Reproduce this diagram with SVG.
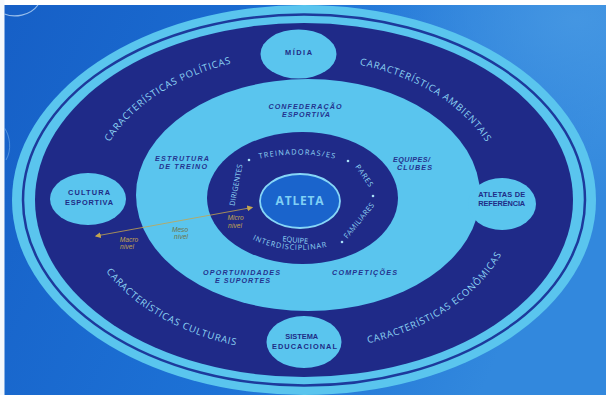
<svg xmlns="http://www.w3.org/2000/svg" width="606" height="398" viewBox="0 0 606 398">
<defs>
<linearGradient id="bg" x1="0" y1="0" x2="1" y2="0.3">
<stop offset="0" stop-color="#165fc6"/>
<stop offset="0.6" stop-color="#1d72d6"/>
<stop offset="1" stop-color="#3288dd"/>
</linearGradient>
<radialGradient id="hl" cx="0.95" cy="0.05" r="0.45">
<stop offset="0" stop-color="#4a9be4" stop-opacity="0.8"/>
<stop offset="1" stop-color="#4a9be4" stop-opacity="0"/>
</radialGradient>
<marker id="ah" viewBox="0 0 10 10" refX="8" refY="5" markerWidth="6" markerHeight="6" markerUnits="userSpaceOnUse" orient="auto-start-reverse">
<path d="M0,0 L10,5 L0,10 Z" fill="#c4a54e"/>
</marker>
<path id="pPol" d="M93.5,188 A209,143 0 0 1 280.2,55.8"/>
<path id="pAmb" d="M316,59.3 A201,139 0 0 1 501.9,183.5"/>
<path id="pCul" d="M81.2,219.5 A223,154.5 0 0 0 294.2,352.4"/>
<path id="pEco" d="M322,350 A214,153 0 0 0 516,210"/>
<path id="pTre" d="M250,161.1 A175,175 0 0 1 345,161.1"/>
<path id="pInt" d="M224.7,212.2 A78,51 0 0 0 375.3,212.2"/>
</defs>
<style>
.light{fill:#5ac5ee}
.navy{fill:#1f2a88}
.band{font-family:"Open Sans","Liberation Sans",sans-serif;font-size:9.6px;fill:#8cd3f3;letter-spacing:0.8px}
.micro{font-family:"Open Sans","Liberation Sans",sans-serif;font-size:7.4px;fill:#8fd4f3}
.meso{font-family:"Liberation Sans",Arial,sans-serif;font-size:7.2px;font-weight:bold;font-style:italic;fill:#24338e;text-anchor:middle}
.sat{font-family:"Liberation Sans",Arial,sans-serif;font-size:7.4px;font-weight:bold;fill:#1f2c86;text-anchor:middle}
.gold{font-family:"Liberation Sans",Arial,sans-serif;font-size:6.6px;font-style:italic;text-anchor:middle}
.dot{fill:#a8e0f7}
</style>
<rect x="0" y="0" width="606" height="398" fill="url(#bg)"/>
<rect x="0" y="0" width="606" height="398" fill="url(#hl)"/>
<rect x="0" y="0" width="606" height="5" fill="#ffffff"/>
<rect x="0" y="0" width="4.5" height="398" fill="#f4f8fc"/>
<rect x="0" y="395" width="606" height="3" fill="#ffffff"/>
<path d="M4.5,14 C14,18 30,16 38,5" fill="none" stroke="#cfe6fb" stroke-width="1.2" opacity="0.7"/>
<path d="M4.5,128 C10,136 12,150 6,160" fill="none" stroke="#8cc0ef" stroke-width="1" opacity="0.5"/>

<g id="rings">
<ellipse cx="304" cy="200" rx="292" ry="195" class="light"/>
<ellipse cx="304" cy="200" rx="281" ry="185.5" fill="none" stroke="#1d3a9c" stroke-width="2.5"/>
<ellipse cx="304" cy="200" rx="269" ry="177" class="navy"/>
</g>

<g id="macro-labels">
<text class="band"><textPath href="#pPol" startOffset="50%" text-anchor="middle">CARACTERÍSTICAS POLÍTICAS</textPath></text>
<text class="band"><textPath href="#pAmb" startOffset="50%" text-anchor="middle">CARACTERÍSTICA AMBIENTAIS</textPath></text>
<text class="band"><textPath href="#pCul" startOffset="50%" text-anchor="middle">CARACTERÍSTICAS CULTURAIS</textPath></text>
<text class="band"><textPath href="#pEco" startOffset="50%" text-anchor="middle">CARACTERÍSTICAS ECONÔMICAS</textPath></text>
</g>

<g id="meso">
<ellipse cx="308" cy="195" rx="172" ry="116" class="light"/>
<text class="meso" x="305" y="108.5" textLength="73">CONFEDERAÇÃO</text>
<text class="meso" x="306" y="117" textLength="48">ESPORTIVA</text>
<text class="meso" x="182" y="160.5" textLength="54">ESTRUTURA</text>
<text class="meso" x="183" y="169" textLength="48">DE TREINO</text>
<text class="meso" x="411.5" y="161.5" textLength="37">EQUIPES/</text>
<text class="meso" x="414.5" y="170" textLength="35">CLUBES</text>
<text class="meso" x="241.5" y="274.5" textLength="77">OPORTUNIDADES</text>
<text class="meso" x="242.5" y="282.5" textLength="55">E SUPORTES</text>
<text class="meso" x="364.5" y="274.5" textLength="65">COMPETIÇÕES</text>
</g>

<g id="micro">
<ellipse cx="302.5" cy="198" rx="95.5" ry="66" class="navy"/>
<text class="micro" font-size="7.6" letter-spacing="1.2"><textPath href="#pTre" startOffset="50%" text-anchor="middle">TREINADORAS/ES</textPath></text>
<text class="micro" text-anchor="middle" letter-spacing="0.1" transform="translate(238.5,185.5) rotate(-79)">DIRIGENTES</text>
<text class="micro" text-anchor="middle" letter-spacing="0.8" transform="translate(362.4,177.4) rotate(55.7)">PARES</text>
<text class="micro" text-anchor="middle" letter-spacing="0.3" transform="translate(361,222.1) rotate(-51)">FAMILIARES</text>
<text class="micro" text-anchor="middle" transform="translate(295,242.5) rotate(6)">EQUIPE</text>
<text class="micro" font-size="7.6" letter-spacing="0.8"><textPath href="#pInt" startOffset="44%" text-anchor="middle">INTERDISCIPLINAR</textPath></text>
<circle class="dot" cx="249" cy="160" r="1.3"/>
<circle class="dot" cx="348" cy="161" r="1.3"/>
<circle class="dot" cx="373" cy="196" r="1.3"/>
<circle class="dot" cx="342" cy="242" r="1.3"/>
</g>

<g id="atleta">
<ellipse cx="300" cy="201" rx="40" ry="27" fill="#1a64cc" stroke="#86d6f7" stroke-width="1.8"/>
<text x="300" y="205" text-anchor="middle" font-family="Open Sans, Liberation Sans, sans-serif" font-weight="bold" font-size="12" fill="#7fd0f5" letter-spacing="0.8">ATLETA</text>
</g>

<g id="midia">
<ellipse cx="298.5" cy="54" rx="38" ry="24.5" class="light"/>
<text class="sat" x="298.5" y="54.5" textLength="27">MÍDIA</text>
</g>
<g id="cultura-esportiva">
<ellipse cx="88" cy="199" rx="38" ry="26" class="light"/>
<text class="sat" x="89" y="195" textLength="42">CULTURA</text>
<text class="sat" x="89" y="204.5" textLength="48">ESPORTIVA</text>
</g>
<g id="atletas-referencia">
<ellipse cx="502" cy="204" rx="34" ry="26" class="light"/>
<text class="sat" x="501.7" y="197" textLength="47">ATLETAS DE</text>
<text class="sat" x="501.7" y="205.8" textLength="47">REFERÊNCIA</text>
</g>
<g id="sistema-educacional">
<ellipse cx="304" cy="342" rx="37.5" ry="26" class="light"/>
<text class="sat" x="301.7" y="339" textLength="33">SISTEMA</text>
<text class="sat" x="304.5" y="348.6" textLength="65">EDUCACIONAL</text>
</g>

<g id="connectors">
<line x1="96" y1="236" x2="252" y2="207.5" stroke="#c4a54e" stroke-width="0.8" marker-start="url(#ah)" marker-end="url(#ah)"/>
</g>
<g id="level-labels">
<text class="gold" x="129" y="242" fill="#c2a550">Macro</text>
<text class="gold" x="127" y="249" fill="#c2a550">nível</text>
<text class="gold" x="180" y="232" fill="#6f7446">Meso</text>
<text class="gold" x="181" y="238.5" fill="#6f7446">nível</text>
<text class="gold" x="235.5" y="220" fill="#c2a550">Micro</text>
<text class="gold" x="235" y="227.5" fill="#c2a550">nível</text>
</g>
</svg>
